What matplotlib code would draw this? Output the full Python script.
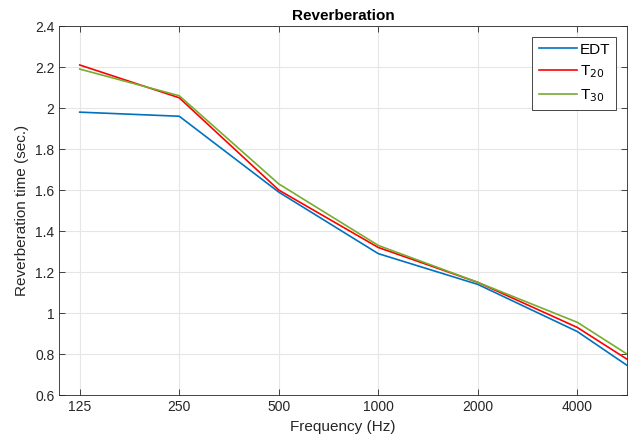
import matplotlib.pyplot as plt
import numpy as np

# data (last octave is clipped by xlim)
frecuencias = [125, 250, 500, 1000, 2000, 4000, 8000]
edt = [1.98, 1.96, 1.59, 1.29, 1.14, 0.91, 0.58]
t20 = [2.21, 2.05, 1.60, 1.32, 1.15, 0.93, 0.62]
t30 = [2.19, 2.06, 1.63, 1.33, 1.15, 0.955, 0.645]
etiquetas = ['125', '250', '500', '1000', '2000', '4000']

plt.rcParams['font.family'] = ['Liberation Sans', 'DejaVu Sans']

fig = plt.figure(figsize=(6.29, 4.41), dpi=100)
ax = fig.add_axes([0.094, 0.104, 0.903, 0.837])

ax.plot(frecuencias, edt, color=(0, 0.447, 0.741), lw=1.2, label='EDT')
ax.plot(frecuencias, t20, color='#ff0000', lw=1.2, label='T$_{20}$')
ax.plot(frecuencias, t30, color=(0.466, 0.674, 0.188), lw=1.2, label='T$_{30}$')

ax.set_xscale('log')
ax.set_xlim(108.3, 5657)
ax.set_ylim(0.6, 2.4)
ax.set_xticks(frecuencias[:-1])
ax.set_xticklabels(etiquetas)
ax.minorticks_off()
ax.set_yticks(np.arange(0.6, 2.41, 0.2))
ax.set_yticklabels(['0.6', '0.8', '1', '1.2', '1.4', '1.6', '1.8', '2', '2.2', '2.4'])

ax.grid(True, color='#e6e6e6', lw=0.8)
ax.tick_params(direction='in', top=True, right=True, length=4, colors='#262626',
               labelsize=10, width=0.6)
for s in ax.spines.values():
    s.set_color('#262626')
    s.set_linewidth(0.6)

ax.set_title('Reverberation', fontsize=11, fontweight='bold', pad=4)
ax.set_xlabel('Frequency (Hz)', fontsize=11, color='#262626')
ax.set_ylabel('Reverberation time (sec.)', fontsize=11, color='#262626')

leg = ax.legend(loc='upper right', fontsize=11, fancybox=False, framealpha=1,
                edgecolor='#262626', handlelength=2.5, borderaxespad=0.7,
                labelspacing=0.45, handletextpad=0.2, borderpad=0.4)
leg.get_frame().set_linewidth(0.6)

plt.savefig('out.png', dpi=100)
